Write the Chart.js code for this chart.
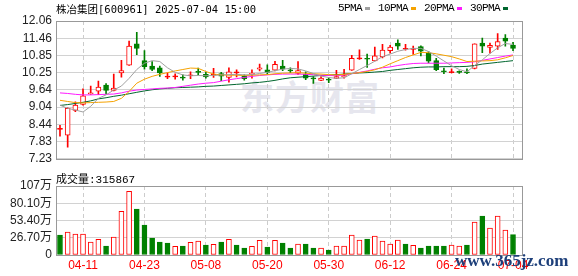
<!DOCTYPE html>
<html>
<head>
<meta charset="utf-8">
<script src="https://cdn.jsdelivr.net/npm/chart.js@4.4.1/dist/chart.umd.min.js"></script>
<style>
  html, body { margin: 0; padding: 0; background: #fff; }
  #wrap { position: relative; width: 578px; height: 276px; overflow: hidden; }
  canvas { position: absolute; left: 0; z-index: 1; }
  #priceChart { top: 0; }
  #volChart { top: 170px; }
  .txt { position: absolute; white-space: nowrap; z-index: 2; color: #000; }
  #title { left: 56px; top: 1px; font: 10.5px 'DejaVu Sans Mono', 'Noto Sans CJK SC'; }
  #legend { left: 338px; top: 2px; display: flex; align-items: center; font: 11px 'Liberation Mono', monospace; letter-spacing: -0.6px; }
  #legend i { display: inline-block; width: 5px; height: 3px; margin: 1px 8px 0 3px; }
  #volTitle { left: 56px; top: 170px; font: 11px 'Liberation Mono', 'Noto Sans CJK SC'; }
  #logo { position: absolute; left: 240px; top: 71px; z-index: 0; font: bold 34px 'Noto Sans CJK SC'; letter-spacing: 1px; color: #e6e6ee; }
  #site { left: 455px; top: 251px; z-index: 3; font: bold 17px 'Liberation Serif'; color: #1d3f7a; }
</style>
</head>
<body>
<div id="wrap">
  <div id="logo">东方财富</div>
  <canvas id="priceChart" width="578" height="170"></canvas>
  <canvas id="volChart" width="578" height="106"></canvas>
  <div class="txt" id="title">株冶集团[600961] 2025-07-04 15:00</div>
  <div class="txt" id="legend">
    <span>5PMA</span><i style="background:#a0a0a0"></i>
    <span>10PMA</span><i style="background:#f5a200"></i>
    <span>20PMA</span><i style="background:#ff1aff"></i>
    <span>30PMA</span><i style="background:#00662e"></i>
  </div>
  <div class="txt" id="volTitle">成交量:315867</div>
  <div class="txt" id="site">www.365jz.com</div>
</div>
<script>
// trading days shown (MM-DD)
const days = ['04-08','04-09','04-10','04-11','04-14','04-15','04-16','04-17','04-18','04-21',
  '04-22','04-23','04-24','04-25','04-28','04-29','04-30','05-06','05-07','05-08',
  '05-09','05-12','05-13','05-14','05-15','05-16','05-19','05-20','05-21','05-22',
  '05-23','05-26','05-27','05-28','05-29','05-30','06-03','06-04','06-05','06-06',
  '06-09','06-10','06-11','06-12','06-13','06-16','06-17','06-18','06-19','06-20',
  '06-23','06-24','06-25','06-26','06-27','06-30','07-01','07-02','07-03','07-04'];

const open = [8.26,8.06,8.93,9.14,9.50,9.60,9.81,9.63,10.24,10.51,
  11.26,10.67,10.48,10.42,10.09,10.10,10.08,10.14,10.27,10.19,
  10.16,10.22,10.08,10.24,10.13,10.19,10.37,10.35,10.34,10.48,
  10.33,10.22,10.19,10.05,9.98,10.00,10.05,10.10,10.34,10.73,
  10.74,10.66,10.80,11.02,11.29,11.07,11.06,11.16,10.93,10.67,
  10.29,10.25,10.27,10.25,10.40,11.29,11.13,11.18,11.46,11.22];
const high = [8.40,9.02,9.23,9.68,9.78,9.95,9.87,10.20,10.68,11.36,
  11.66,11.02,10.64,10.48,10.24,10.21,10.17,10.28,10.41,10.26,
  10.40,10.26,10.42,10.35,10.17,10.35,10.55,10.52,10.65,10.68,
  10.42,10.64,10.28,10.11,10.11,10.06,10.33,10.37,10.86,11.05,
  10.90,11.15,11.24,11.21,11.40,11.24,11.18,11.19,10.99,10.75,
  10.41,10.38,10.31,10.38,11.26,11.46,11.29,11.62,11.58,11.31];
const low = [8.02,7.64,8.88,9.11,9.49,9.48,9.50,9.61,10.09,10.50,
  10.88,10.37,10.32,10.12,10.04,10.02,9.99,10.04,10.17,10.06,
  10.08,9.97,9.92,10.10,9.99,10.06,10.31,10.19,10.31,10.32,
  10.25,10.19,10.00,9.87,9.97,9.90,10.04,10.06,10.33,10.71,
  10.43,10.66,10.77,10.93,11.06,11.04,10.89,10.84,10.59,10.32,
  10.21,10.24,10.22,10.21,10.38,10.95,10.93,11.06,11.18,11.02];
const close = [8.27,9.00,9.11,9.44,9.54,9.74,9.63,9.71,10.32,11.18,
  11.10,10.46,10.36,10.24,10.10,10.11,10.06,10.15,10.26,10.10,
  10.17,10.13,10.28,10.25,10.04,10.22,10.42,10.26,10.54,10.37,
  10.31,10.32,10.06,10.03,10.06,9.99,10.11,10.15,10.75,10.74,
  10.72,10.84,11.04,11.15,11.18,11.08,11.07,11.00,10.65,10.35,
  10.28,10.26,10.26,10.24,11.26,11.18,11.21,11.34,11.35,11.10];

const ma5 = [9.11,9.00,8.94,8.87,9.07,9.35,9.47,9.64,9.78,10.05,
  10.36,10.58,10.67,10.64,10.42,10.26,10.17,10.14,10.15,10.14,
  10.15,10.17,10.18,10.19,10.17,10.18,10.22,10.26,10.32,10.37,
  10.40,10.38,10.31,10.22,10.13,10.08,10.05,10.07,10.21,10.36,
  10.50,10.65,10.81,10.90,11.00,11.06,11.10,11.10,10.99,10.83,
  10.66,10.49,10.36,10.28,10.50,10.70,10.92,11.12,11.27,11.24];
const ma10 = [9.28,9.24,9.20,9.19,9.20,9.21,9.22,9.24,9.35,9.59,
  9.88,10.02,10.12,10.19,10.25,10.31,10.36,10.41,10.40,10.29,
  10.20,10.17,10.16,10.16,10.15,10.16,10.17,10.18,10.21,10.23,
  10.24,10.25,10.23,10.21,10.20,10.18,10.17,10.19,10.22,10.25,
  10.29,10.35,10.44,10.56,10.67,10.78,10.87,10.96,10.95,10.91,
  10.86,10.81,10.73,10.64,10.65,10.66,10.67,10.70,10.77,10.85];
const ma20 = [9.54,9.52,9.49,9.47,9.47,9.48,9.49,9.50,9.54,9.60,
  9.64,9.66,9.68,9.70,9.71,9.73,9.77,9.81,9.85,9.88,
  9.90,9.95,10.00,10.04,10.08,10.12,10.15,10.17,10.19,10.20,
  10.20,10.20,10.19,10.18,10.16,10.15,10.14,10.17,10.21,10.26,
  10.31,10.37,10.42,10.45,10.50,10.54,10.57,10.58,10.58,10.58,
  10.58,10.59,10.60,10.61,10.63,10.68,10.73,10.78,10.83,10.87];
const ma30 = [9.10,9.13,9.17,9.21,9.26,9.33,9.37,9.42,9.46,9.51,
  9.56,9.61,9.65,9.68,9.70,9.72,9.73,9.74,9.75,9.77,
  9.78,9.80,9.82,9.84,9.86,9.89,9.91,9.94,9.98,10.03,
  10.07,10.09,10.11,10.13,10.15,10.16,10.18,10.20,10.22,10.24,
  10.25,10.27,10.29,10.33,10.36,10.39,10.42,10.44,10.45,10.45,
  10.46,10.46,10.46,10.47,10.50,10.55,10.58,10.61,10.64,10.67];

// volume in 万 (lots)
const volume = [31.0,35.6,32.5,32.5,20.1,24.3,13.9,27.9,67.6,98.6,
  71.2,46.4,26.3,20.1,18.6,13.4,13.9,19.6,21.7,15.5,
  16.5,20.1,24.3,15.5,10.8,13.4,22.7,12.4,22.7,18.6,
  10.8,17.0,17.0,10.8,10.8,7.7,13.9,13.9,31.0,23.2,
  24.8,29.4,21.7,17.0,23.2,17.0,15.0,10.8,13.9,13.9,
  13.9,15.5,13.9,15.5,51.1,60.4,41.8,60.4,38.7,31.59];
// 1 = red (up) bar, 0 = green
const volUp = [0,1,1,1,1,1,0,1,1,1, 0,0,0,0,0,1,0,1,1,0,
  1,0,1,0,0,1,1,0,1,0, 0,1,0,0,1,0,1,1,1,1,
  0,1,1,1,1,0,1,0,0,0, 0,1,1,0,1,0,1,1,1,0];

const priceTicks = ['7.23','7.83','8.44','9.04','9.64','10.25','10.85','11.46','12.06'];
const volTicks = ['0','26.70万','53.40万','80.10万','107万'];
const volMax = 106.8;

const RED = '#ff0000', GREEN = '#008000';
const idx = days.map((d, i) => i);
const labelIdx = idx.filter(i => i % 8 === 3);
const pMin = parseFloat(priceTicks[0]);
const pMax = parseFloat(priceTicks[priceTicks.length - 1]);
const up = idx.map(i => close[i] >= open[i]);

// frame around plot area
const frame = {
  id: 'frame',
  afterDraw(c) {
    const a = c.chartArea, ctx = c.ctx;
    ctx.save();
    ctx.strokeStyle = '#999';
    ctx.lineWidth = 1;
    ctx.strokeRect(Math.round(a.left) + 0.5, Math.round(a.top) + 0.5,
      Math.round(a.right - a.left), Math.round(a.bottom - a.top));
    ctx.restore();
  }
};

const xScale = (showLabels) => ({
  type: 'linear',
  offset: false,
  min: -0.52,
  max: 60.17,
  afterBuildTicks: s => { s.ticks = labelIdx.map(v => ({ value: v })); },
  ticks: {
    display: showLabels,
    autoSkip: false,
    maxRotation: 0,
    padding: 3,
    color: RED,
    font: { family: 'Liberation Sans', size: 12 },
    callback: v => days[v]
  },
  grid: { color: '#cccccc', drawTicks: false, offset: false },
  border: { display: false, dash: [4, 3] }
});

new Chart(document.getElementById('priceChart'), {
  data: {
    datasets: [
      {
        type: 'bar', order: 3, grouped: false, barThickness: 1,
        data: idx.map(i => ({ x: i, y: [low[i], high[i]] })),
        backgroundColor: idx.map(i => up[i] ? RED : GREEN)
      },
      {
        type: 'bar', order: 2, grouped: false, barThickness: 5, minBarLength: 1,
        data: idx.map(i => ({ x: i, y: [open[i], close[i]] })),
        backgroundColor: idx.map(i => !up[i] ? GREEN : (close[i] - open[i] < 0.03 ? RED : '#ffffff')),
        borderColor: idx.map(i => up[i] ? RED : GREEN),
        borderWidth: 1,
        borderSkipped: false
      },
      { type: 'line', order: 1, data: idx.map(i => ({ x: i, y: ma5[i] })), borderColor: '#a0a0a0', borderWidth: 1, pointRadius: 0 },
      { type: 'line', order: 1, data: idx.map(i => ({ x: i, y: ma10[i] })), borderColor: '#f5a200', borderWidth: 1, pointRadius: 0 },
      { type: 'line', order: 1, data: idx.map(i => ({ x: i, y: ma20[i] })), borderColor: '#ff1aff', borderWidth: 1, pointRadius: 0 },
      { type: 'line', order: 1, data: idx.map(i => ({ x: i, y: ma30[i] })), borderColor: '#00662e', borderWidth: 1, pointRadius: 0 }
    ]
  },
  options: {
    responsive: false,
    animation: false,
    events: [],
    layout: { padding: { left: 0, right: 56, top: 21, bottom: 5 } },
    plugins: { legend: { display: false }, tooltip: { enabled: false } },
    scales: {
      x: Object.assign(xScale(false), { afterFit: s => { s.height = 0; } }),
      y: {
        min: pMin, max: pMax,
        afterBuildTicks: s => {
          s.ticks = priceTicks.map((t, k) => ({ value: pMin + k * (pMax - pMin) / (priceTicks.length - 1) }));
        },
        afterFit: s => { s.width = 56; },
        ticks: {
          autoSkip: false,
          padding: 4, color: '#222',
          font: { family: 'Liberation Sans', size: 12 },
          callback: (v, k) => priceTicks[k]
        },
        grid: { color: '#d2d2d2', drawTicks: false },
        border: { display: false }
      }
    }
  },
  plugins: [frame]
});

new Chart(document.getElementById('volChart'), {
  data: {
    datasets: [{
      type: 'bar', grouped: false, barThickness: 5,
      data: idx.map(i => ({ x: i, y: volume[i] })),
      backgroundColor: idx.map(i => volUp[i] ? '#ffffff' : GREEN),
      borderColor: idx.map(i => volUp[i] ? RED : GREEN),
      borderWidth: 1,
      borderSkipped: false
    }]
  },
  options: {
    responsive: false,
    animation: false,
    events: [],
    layout: { padding: { left: 0, right: 56, top: 16, bottom: 0 } },
    plugins: { legend: { display: false }, tooltip: { enabled: false } },
    scales: {
      x: Object.assign(xScale(true), { afterFit: s => { s.height = 21; } }),
      y: {
        min: 0, max: volMax,
        afterBuildTicks: s => {
          s.ticks = volTicks.map((t, k) => ({ value: k * volMax / (volTicks.length - 1) }));
        },
        afterFit: s => { s.width = 56; },
        ticks: {
          autoSkip: false,
          padding: 4, color: '#222',
          font: { family: "'Liberation Sans', 'Noto Sans CJK SC'", size: 12 },
          callback: (v, k) => volTicks[k]
        },
        grid: { color: '#d2d2d2', drawTicks: false },
        border: { display: false }
      }
    }
  },
  plugins: [frame]
});
</script>
</body>
</html>
